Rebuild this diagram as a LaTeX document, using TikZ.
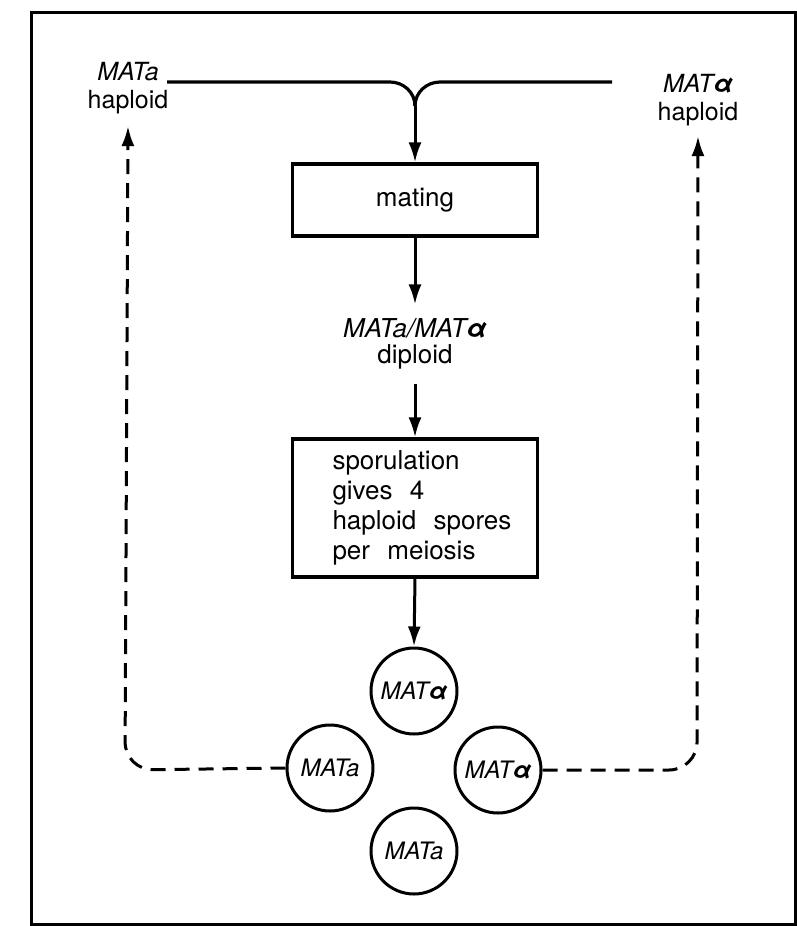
\documentclass[tikz,border=0pt]{standalone}
\usepackage{fontspec}
\setmainfont{TeX Gyre Heros}
\usetikzlibrary{arrows.meta}
\begin{document}
\begin{tikzpicture}[x=1pt,y=-1pt,
  lbl/.style={font=\fontsize{25}{28}\selectfont, align=center, inner sep=2pt},
  txt/.style={font=\fontsize{26}{30}\selectfont},
  stepbox/.style={draw, line width=3.2pt, txt},
  spore/.style={draw, circle, line width=3pt, minimum size=86pt, inner sep=0pt,
    font=\fontsize{24}{24}\selectfont\itshape},
  arr/.style={line width=3pt, -{Latex[length=20pt,width=13pt]}},
  dsh/.style={line width=3pt, dash pattern=on 15pt off 9pt, rounded corners=28pt,
    -{Latex[length=20pt,width=13pt]}}
]
\useasboundingbox (0,0) rectangle (796,926);
\fill[white] (0,0) rectangle (796,926);
% outer frame
\draw[line width=3pt] (31,12) rectangle (795,924);

% parent haploids
\node[lbl] (ha) at (128,88) {\textit{MATa}\\haploid};
\node[lbl] (hb) at (698,100) {\textit{MAT\textbf{α}}\\haploid};

% mating step
\node[stepbox, minimum width=245pt, minimum height=72pt] (mating) at (415,200) {mating};
\coordinate (join) at (415,106);
\draw[line width=3.2pt] (167,82) -- (390,82) to[out=0,in=90] (join);
\draw[line width=3.2pt] (612,82) -- (440,82) to[out=180,in=90] (join);
\draw[arr] (join) -- (mating.north);

% diploid
\node[align=center, font=\fontsize{26}{26}\selectfont, inner sep=0pt] (dip) at (415,344)
  {\textit{MATa/MAT\textbf{α}}\\diploid};
\draw[arr] (mating.south) -- ([yshift=14pt]dip.north);

% sporulation
\node[stepbox, inner xsep=40pt, text width=165pt, align=left, minimum height=138pt] (spor)
  at (415,508) {\mbox{sporulation}\\\mbox{gives\ \ 4}\\\mbox{haploid\ \ spores}\\\mbox{per\ \ meiosis}};
\draw[arr] ([yshift=-14pt]dip.south) -- (spor.north);

% the four spores of one tetrad
\node[spore] (s1) at (414,691) {MAT\textbf{α}};
\node[spore] (s2) at (330,768) {MATa};
\node[spore] (s3) at (498,770) {MAT\textbf{α}};
\node[spore] (s4) at (414,851) {MATa};
\draw[arr] (spor.south) -- (s1.north);

% spores return to the haploid pools
\draw[dsh] (s2.west) -- (125,770) -- ([yshift=-10pt]ha.south);
\draw[dsh] (s3.east) -- (697,770) -- ([yshift=-8pt]hb.south);
\end{tikzpicture}
\end{document}
